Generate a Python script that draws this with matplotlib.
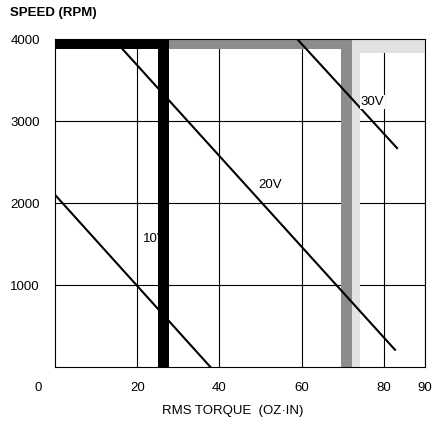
import matplotlib
matplotlib.use("Agg")
import matplotlib.pyplot as plt
from matplotlib.patches import Rectangle

plt.rcParams['font.family'] = ['Liberation Sans', 'DejaVu Sans']

# ---- data ----
v10_torque = [0, 37.8]
v10_speed = [2100, 0]
v20_torque = [14.2, 82.7]
v20_speed = [4000, 210]
v30_torque = [58.9, 83.2]
v30_speed = [4000, 2670]
line_labels = ["10V", "20V", "30V"]
label_pos_torque = [21.5, 49.5, 74.4]
label_pos_speed = [1560, 2220, 3230]

xtick_values = [20, 40, 60, 80, 90]
ytick_values = [1000, 2000, 3000, 4000]

# limit regions (torque start, torque end, speed start, speed end)
black_vert = (25.0, 27.8, 0, 4000)
black_top = (0, 27.8, 3880, 4000)
gray_vert = (69.6, 72.3, 0, 4000)
gray_top = (27.8, 72.3, 3880, 4000)
light_vert = (72.3, 74.3, 0, 4000)
light_top = (72.3, 90, 3830, 4000)

W, H = 433, 423
fig = plt.figure(figsize=(W / 100, H / 100), dpi=100)
ax = fig.add_axes([55 / W, 1 - 367 / H, 370 / W, 328 / H])
ax.set_xlim(0, 90)
ax.set_ylim(0, 4000)

def rect(r, **kw):
    x0, x1, y0, y1 = r
    ax.add_patch(Rectangle((x0, y0), x1 - x0, y1 - y0, linewidth=0, **kw))

rect(light_vert, facecolor='#e2e2e2', zorder=2)
rect(light_top, facecolor='#e2e2e2', zorder=2)
rect(gray_vert, facecolor='#8c8c8c', zorder=2)
rect(gray_top, facecolor='#8c8c8c', zorder=2)

ax.plot(v20_torque, v20_speed, color='black', lw=1.5, zorder=3)
ax.plot(v10_torque, v10_speed, color='black', lw=1.5, zorder=3)
ax.plot(v30_torque, v30_speed, color='black', lw=1.5, zorder=3)

for t, x, y in zip(line_labels, label_pos_torque, label_pos_speed):
    ax.text(x, y, t, fontsize=9.5, ha='left', va='center', zorder=3,
            bbox=dict(facecolor='white', edgecolor='none', pad=0.5) if t == "30V" else None)

rect(black_vert, facecolor='black', zorder=4)
rect(black_top, facecolor='black', zorder=4)

ax.set_xticks(xtick_values)
ax.set_xticklabels([str(v) for v in xtick_values])
ax.set_yticks(ytick_values)
ax.set_yticklabels([str(v) for v in ytick_values])
ax.tick_params(length=0, labelsize=9.5, colors='black')
ax.tick_params(axis='x', pad=11)
ax.tick_params(axis='y', pad=11)
ax.grid(True, color='black', lw=0.8, zorder=1)
ax.set_axisbelow(True)
for s in ax.spines.values():
    s.set_linewidth(0.8)

fig.text(38 / W, 1 - 388 / H, "0", fontsize=9.5, ha='center', va='center')
fig.text(233 / W, 1 - 411 / H, "RMS TORQUE  (OZ·IN)", fontsize=9.5, ha='center', va='center')
fig.text(10 / W, 1 - 13 / H, "SPEED (RPM)", fontsize=9.5, fontweight='bold', ha='left', va='center')

fig.savefig("out.png", dpi=100)
